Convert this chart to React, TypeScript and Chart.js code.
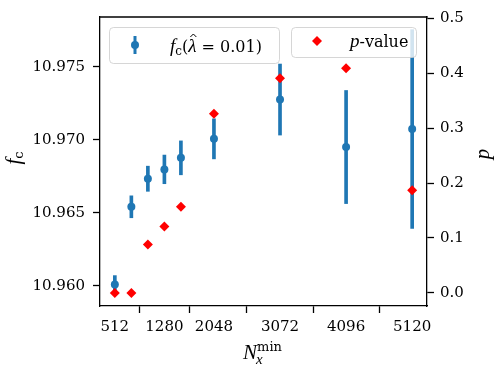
import React, { useEffect, useRef } from 'react';
import { Chart, registerables } from 'chart.js';

Chart.register(...registerables);

// ---- data ----
const nxMin = [512, 768, 1024, 1280, 1536, 2048, 3072, 4096, 5120];
const fcValues = [10.96011, 10.96542, 10.96734, 10.96798, 10.96877, 10.97007, 10.97276, 10.96951, 10.97074];
const fcErrors = [0.0006, 0.00075, 0.00086, 0.00098, 0.00116, 0.00137, 0.00243, 0.00387, 0.0068];
const pValues = [0.0, 0.0, 0.088, 0.121, 0.157, 0.326, 0.391, 0.409, 0.187];
const xTickValues = [512, 1280, 2048, 3072, 4096, 5120];
const fcTickValues = [10.96, 10.965, 10.97, 10.975];
const pTickValues = [0, 0.1, 0.2, 0.3, 0.4, 0.5];

const BLUE = '#1f77b4';
const RED = '#ff0000';
const TICK_FONT = "'DejaVu Serif', serif";
const MATH = "'Liberation Serif', 'DejaVu Serif', serif";
const ROMAN = "'DejaVu Serif', serif";

type Part = { t: string; font: string; dy?: number };

function richWidth(ctx: CanvasRenderingContext2D, parts: Part[]) {
  let w = 0;
  for (const p of parts) {
    ctx.font = p.font;
    w += ctx.measureText(p.t).width;
  }
  return w;
}

function drawRich(ctx: CanvasRenderingContext2D, x: number, y: number, parts: Part[]) {
  let cx = x;
  const pos: number[] = [];
  for (const p of parts) {
    ctx.font = p.font;
    pos.push(cx);
    ctx.fillText(p.t, cx, y + (p.dy || 0));
    cx += ctx.measureText(p.t).width;
  }
  pos.push(cx);
  return pos;
}

const decorPlugin = {
  id: 'decor',
  afterDraw(chart: any) {
    const ctx: CanvasRenderingContext2D = chart.ctx;
    const a = chart.chartArea;
    ctx.save();
    // top frame
    ctx.strokeStyle = '#000';
    ctx.lineWidth = 1.3;
    ctx.beginPath();
    ctx.moveTo(a.left - 0.65, a.top);
    ctx.lineTo(a.right + 0.65, a.top);
    ctx.stroke();

    // legend boxes
    ctx.fillStyle = 'rgba(255,255,255,0.8)';
    ctx.strokeStyle = 'rgba(204,204,204,0.8)';
    ctx.lineWidth = 1;
    const box = (x: number, y: number, w: number, h: number) => {
      ctx.beginPath();
      (ctx as any).roundRect(x, y, w, h, 4);
      ctx.fill();
      ctx.stroke();
    };
    box(a.left + 9.5, a.top + 10.5, 170, 36);
    box(a.right - 135.5, a.top + 10.5, 125, 30);

    // legend 1 handle
    const hx = a.left + 35;
    const hy = a.top + 28;
    ctx.strokeStyle = BLUE;
    ctx.lineWidth = 3;
    ctx.beginPath();
    ctx.moveTo(hx, hy - 9);
    ctx.lineTo(hx, hy + 9);
    ctx.stroke();
    ctx.fillStyle = BLUE;
    ctx.beginPath();
    ctx.arc(hx, hy, 4, 0, Math.PI * 2);
    ctx.fill();

    // legend 1 text
    ctx.fillStyle = '#000';
    ctx.textBaseline = 'alphabetic';
    ctx.textAlign = 'left';
    const it = `italic 19px ${MATH}`;
    const rm = `16px ${ROMAN}`;
    const sub = `12px ${ROMAN}`;
    const pos = drawRich(ctx, a.left + 70, a.top + 35, [
      { t: 'f', font: it },
      { t: 'c', font: sub, dy: 3 },
      { t: '(', font: rm },
      { t: 'λ', font: it },
      { t: ' = 0.01)', font: rm },
    ]);
    // hat over lambda
    const lx = (pos[3] + pos[4]) / 2 + 1;
    ctx.strokeStyle = '#000';
    ctx.lineWidth = 1;
    ctx.beginPath();
    ctx.moveTo(lx - 3, a.top + 20);
    ctx.lineTo(lx, a.top + 17);
    ctx.lineTo(lx + 3, a.top + 20);
    ctx.stroke();

    // legend 2 handle
    const dx = a.right - 110;
    const dy = a.top + 24;
    ctx.fillStyle = RED;
    ctx.beginPath();
    ctx.moveTo(dx - 5, dy);
    ctx.lineTo(dx, dy - 5);
    ctx.lineTo(dx + 5, dy);
    ctx.lineTo(dx, dy + 5);
    ctx.closePath();
    ctx.fill();
    ctx.fillStyle = '#000';
    drawRich(ctx, a.right - 77, a.top + 30, [
      { t: 'p', font: it },
      { t: '-value', font: rm },
    ]);

    // x axis title
    const xParts: Part[] = [
      { t: 'N', font: `italic 21px ${MATH}` },
      { t: 'min', font: `13px ${ROMAN}`, dy: -8 },
    ];
    const xw = richWidth(ctx, xParts);
    const xs = (a.left + a.right) / 2 - xw / 2 - 1;
    const xp = drawRich(ctx, xs, 359, xParts);
    ctx.font = `italic 15px ${MATH}`;
    ctx.fillText('x', xp[1] - 1, 364);

    // left y title
    ctx.save();
    ctx.translate(20, 158);
    ctx.rotate(-Math.PI / 2);
    const lParts: Part[] = [
      { t: 'f', font: `italic 21px ${MATH}` },
      { t: 'c', font: `13px ${ROMAN}`, dy: 3 },
    ];
    const lw = richWidth(ctx, lParts);
    drawRich(ctx, -lw / 2, 0, lParts);
    ctx.restore();

    // right y title
    ctx.save();
    ctx.translate(489, 154);
    ctx.rotate(-Math.PI / 2);
    ctx.font = `italic 21px ${MATH}`;
    ctx.textAlign = 'center';
    ctx.fillText('p', 0, 0);
    ctx.restore();

    ctx.restore();
  },
};

const axisCommon = {
  grid: { drawOnChartArea: false, tickLength: 7, tickWidth: 1.3, tickColor: '#000' },
  border: { color: '#000', width: 1.3 },
};

export default function App() {
  const ref = useRef<HTMLCanvasElement>(null);

  useEffect(() => {
    const canvas = ref.current;
    if (!canvas) return;
    const chart = new Chart(canvas, {
      type: 'scatter',
      data: {
        datasets: [
          {
            type: 'bar',
            label: 'fc error',
            data: nxMin.map((x, i) => ({ x, y: [fcValues[i] - fcErrors[i], fcValues[i] + fcErrors[i]] })) as any,
            backgroundColor: BLUE,
            borderWidth: 0,
            barThickness: 3,
            grouped: false,
            yAxisID: 'y',
            order: 3,
          } as any,
          {
            type: 'scatter',
            label: 'fc',
            data: nxMin.map((x, i) => ({ x, y: fcValues[i] })),
            backgroundColor: BLUE,
            borderWidth: 0,
            pointRadius: 4,
            pointStyle: 'circle',
            yAxisID: 'y',
            order: 2,
          },
          {
            type: 'scatter',
            label: 'p-value',
            data: nxMin.map((x, i) => ({ x, y: pValues[i] })),
            backgroundColor: RED,
            borderWidth: 0,
            pointRadius: 5,
            pointStyle: 'rectRot',
            yAxisID: 'y2',
            order: 1,
          },
        ],
      },
      options: {
        animation: false,
        responsive: false,
        devicePixelRatio: 1,
        layout: { padding: { top: 13, left: 0, right: 0, bottom: 0 } },
        plugins: { legend: { display: false }, tooltip: { enabled: false } },
        scales: {
          x: {
            type: 'linear',
            min: 282,
            max: 5350,
            offset: false,
            ...axisCommon,
            afterBuildTicks: (s: any) => {
              s.ticks = xTickValues.map((v) => ({ value: v }));
            },
            afterFit: (s: any) => {
              s.height = 68;
            },
            ticks: {
              font: { family: TICK_FONT, size: 15 },
              color: '#000',
              padding: 5,
              maxRotation: 0,
              autoSkip: false,
              callback: (v: any) => String(v),
            },
          },
          y: {
            type: 'linear',
            position: 'left',
            min: 10.95863,
            max: 10.97841,
            ...axisCommon,
            afterBuildTicks: (s: any) => {
              s.ticks = fcTickValues.map((v) => ({ value: v }));
            },
            afterFit: (s: any) => {
              s.width = 100;
            },
            ticks: {
              font: { family: TICK_FONT, size: 15 },
              color: '#000',
              padding: 8,
              callback: (v: any) => Number(v).toFixed(3),
            },
          },
          y2: {
            type: 'linear',
            position: 'right',
            min: -0.0238,
            max: 0.5023,
            ...axisCommon,
            afterBuildTicks: (s: any) => {
              s.ticks = pTickValues.map((v) => ({ value: v }));
            },
            afterFit: (s: any) => {
              s.width = 71;
            },
            ticks: {
              font: { family: TICK_FONT, size: 15 },
              color: '#000',
              padding: 6,
              callback: (v: any) => Number(v).toFixed(1),
            },
          },
        },
      } as any,
      plugins: [decorPlugin],
    });
    return () => chart.destroy();
  }, []);

  return (
    <div style={{ position: 'fixed', left: 0, top: 0, width: 498, height: 374, background: '#fff' }}>
      <canvas ref={ref} width={498} height={374} style={{ display: 'block' }} />
    </div>
  );
}
